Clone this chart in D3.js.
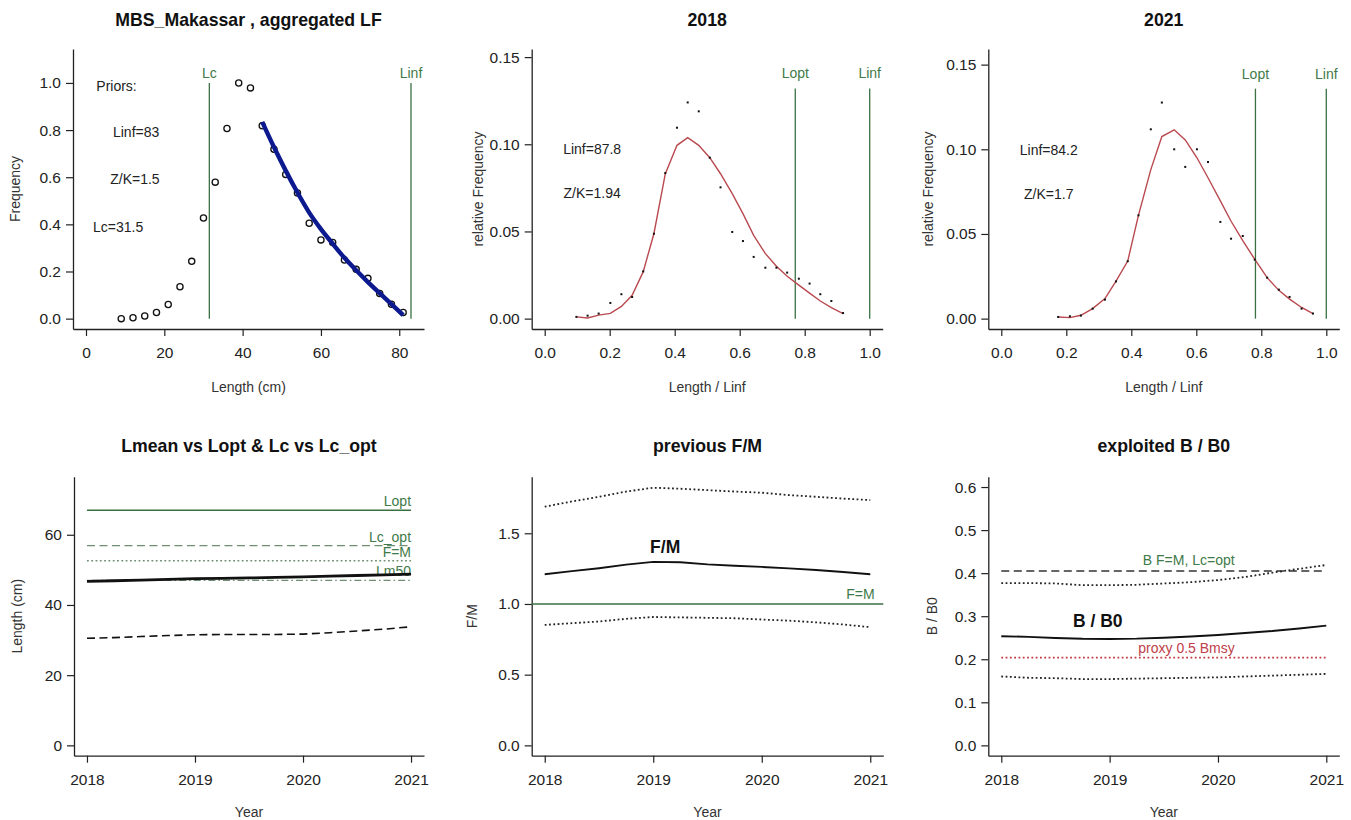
<!DOCTYPE html>
<html><head><meta charset="utf-8">
<script src="https://cdn.jsdelivr.net/npm/d3@7"></script>
<style>
body{margin:0;background:#fff;}
svg{display:block;font-family:"Liberation Sans",Arial,sans-serif;}
</style></head><body>
<svg id="chart" width="1351" height="820"></svg>
<script>
// ================= DATA =================
// Panel 1: aggregated length frequency
const lfLength = [9,12,15,18,21,24,27,30,33,36,39,42,45,48,51,54,57,60,63,66,69,72,75,78,81];
const lfFreq   = [0.0,0.004,0.011,0.026,0.06,0.135,0.243,0.427,0.579,0.807,1.0,0.979,0.818,0.719,0.612,0.533,0.405,0.334,0.323,0.249,0.209,0.171,0.107,0.061,0.026];
const fitLength = [45,48,51,54,57,60,63,66,69,72,75,78,81];
const fitFreq   = [0.835,0.728,0.628,0.535,0.45,0.38,0.318,0.258,0.205,0.155,0.108,0.062,0.015];
const priorLc = 31.5, priorLinf = 83;
const priorTexts = ["Priors:", "Linf=83", "Z/K=1.5", "Lc=31.5"];

// Panel 2: 2018 relative length frequency
const x2018   = [0.0975,0.132,0.166,0.202,0.236,0.269,0.303,0.336,0.371,0.407,0.440,0.474,0.508,0.541,0.577,0.610,0.643,0.679,0.713,0.746,0.782,0.815,0.848,0.882,0.918];
const obs2018 = [0.001,0.0017,0.0029,0.009,0.014,0.0124,0.0271,0.0487,0.0835,0.1095,0.124,0.1189,0.0923,0.0753,0.0497,0.0445,0.0354,0.0292,0.0292,0.0264,0.0229,0.0201,0.014,0.0101,0.0032];
const fit2018 = [0.001,0.0004,0.002,0.003,0.007,0.0134,0.0268,0.0487,0.083,0.0994,0.1038,0.0994,0.0923,0.0831,0.0717,0.0602,0.0478,0.0373,0.030,0.0243,0.0192,0.0146,0.0101,0.0063,0.0029];
const lopt2018 = 0.771;
const texts2018 = ["Linf=87.8", "Z/K=1.94"];

// Panel 3: 2021 relative length frequency
const x2021   = [0.175,0.211,0.245,0.281,0.319,0.353,0.389,0.422,0.460,0.494,0.532,0.566,0.602,0.636,0.674,0.707,0.743,0.780,0.818,0.854,0.887,0.924,0.959];
const obs2021 = [0.001,0.0014,0.0018,0.0059,0.0112,0.022,0.0339,0.061,0.1118,0.1276,0.100,0.0896,0.100,0.0925,0.0571,0.0472,0.0488,0.0348,0.0242,0.0171,0.0128,0.0059,0.003];
const fit2021 = [0.001,0.0006,0.002,0.0059,0.0118,0.0222,0.034,0.061,0.088,0.1075,0.1115,0.1055,0.095,0.0832,0.0695,0.0575,0.046,0.035,0.0242,0.0167,0.0115,0.0066,0.003];
const lopt2021 = 0.782;
const texts2021 = ["Linf=84.2", "Z/K=1.7"];

// Time series (panels 4-6)
const years   = [2018,2018.25,2018.5,2018.75,2019,2019.25,2019.5,2019.75,2020,2020.25,2020.5,2020.75,2021];
const lmean   = [46.7,46.9,47.1,47.3,47.5,47.6,47.7,47.85,48.0,48.2,48.4,48.6,48.8];
const lc      = [30.5,30.7,31.0,31.3,31.5,31.6,31.6,31.6,31.7,32.1,32.6,33.1,33.8];
const refLopt = 67.0, refLcOpt = 56.9, refLFM = 52.6, refLm50 = 47.0;

const fm      = [1.21,1.232,1.253,1.278,1.298,1.295,1.28,1.27,1.262,1.252,1.240,1.226,1.21];
const fmUpper = [1.688,1.725,1.758,1.795,1.822,1.815,1.805,1.795,1.787,1.770,1.758,1.745,1.735];
const fmLower = [0.852,0.864,0.876,0.895,0.908,0.905,0.902,0.899,0.890,0.882,0.870,0.855,0.836];

const bb0      = [0.2535,0.252,0.2495,0.2475,0.2472,0.2478,0.250,0.253,0.2565,0.261,0.2655,0.2715,0.278];
const bb0Upper = [0.377,0.377,0.376,0.372,0.372,0.373,0.376,0.379,0.384,0.391,0.401,0.410,0.419];
const bb0Lower = [0.160,0.157,0.156,0.154,0.154,0.155,0.156,0.157,0.158,0.160,0.162,0.164,0.166];
const refBFM = 0.405, refProxy = 0.204;

const yearTicks = [2018,2019,2020,2021];

// ================= STYLE =================
const GREEN = "#3b7043", GREEN_T = "#3f7a48", RED = "#b9494f", BLUE = "#0d1a8f";
const FONT_TICK = 15.5, FONT_LAB = 14, FONT_TITLE = 17.7;
const DOT = "1.8,2.5";

const svg = d3.select("#chart");

function makePanel(o){
  const xd = o.xlim, yd = o.ylim;
  const xr = xd[1]-xd[0], yr = yd[1]-yd[0];
  const x = d3.scaleLinear().domain([xd[0]-0.04*xr, xd[1]+0.04*xr]).range([o.x0, o.x1]);
  const y = d3.scaleLinear().domain([yd[0]-0.04*yr, yd[1]+0.04*yr]).range([o.y1, o.y0]);
  const g = svg.append("g");
  const ax = g.append("g").attr("transform",`translate(0,${o.y1})`)
    .call(d3.axisBottom(x).tickValues(o.xticks).tickFormat(o.xfmt).tickSize(7).tickSizeOuter(0).tickPadding(11));
  const ay = g.append("g").attr("transform",`translate(${o.x0},0)`)
    .call(d3.axisLeft(y).tickValues(o.yticks).tickFormat(o.yfmt).tickSize(7).tickSizeOuter(0).tickPadding(5));
  [ax, ay].forEach(a=>{
    a.selectAll("path.domain").attr("stroke","#222").attr("stroke-width",1.3);
    a.selectAll(".tick line").attr("stroke","#222").attr("stroke-width",1.2);
    a.selectAll(".tick text").attr("fill","#222").style("font-size",FONT_TICK+"px").style("font-family","'Liberation Sans',Arial,sans-serif");
  });
  const cx = (o.x0+o.x1)/2, cy = (o.y0+o.y1)/2;
  g.append("text").attr("x",cx).attr("y",o.titleY).attr("text-anchor","middle")
    .style("font-size",FONT_TITLE+"px").style("font-weight","bold").attr("fill","#111").text(o.title);
  g.append("text").attr("x",cx).attr("y",o.xlabY).attr("text-anchor","middle")
    .style("font-size",FONT_LAB+"px").attr("fill","#333").text(o.xlab);
  g.append("text").attr("transform",`translate(${o.ylabX},${cy}) rotate(-90)`).attr("text-anchor","middle")
    .attr("dy","0.35em").style("font-size",FONT_LAB+"px").attr("fill","#333").text(o.ylab);
  return {g,x,y};
}

const f1 = d3.format(".1f"), f2 = d3.format(".2f"), fi = d3.format("d");

// ---------- Panel 1 ----------
{
  const p = makePanel({x0:73,x1:424,y0:49,y1:329,xlim:[0,83],ylim:[0,1.1],
    xticks:[0,20,40,60,80],yticks:[0,0.2,0.4,0.6,0.8,1.0],xfmt:fi,yfmt:f1,
    title:"MBS_Makassar , aggregated LF",titleY:26,xlab:"Length (cm)",xlabY:392,ylab:"Frequency",ylabX:15});
  const {g,x,y} = p;
  [[priorLc,"Lc"],[priorLinf,"Linf"]].forEach(([v,t])=>{
    g.append("line").attr("x1",x(v)).attr("x2",x(v)).attr("y1",y(0)).attr("y2",y(1.0))
      .attr("stroke",GREEN).attr("stroke-width",1.3);
    g.append("text").attr("x",x(v)).attr("y",y(1.0)-5).attr("text-anchor","middle")
      .style("font-size","14px").attr("fill",GREEN_T).text(t);
  });
  g.selectAll("circle.obs").data(lfLength).join("circle").attr("class","obs")
    .attr("cx",(d)=>x(d)).attr("cy",(d,i)=>y(lfFreq[i])).attr("r",3.1)
    .attr("fill","none").attr("stroke","#111").attr("stroke-width",1.3);
  g.append("path").datum(fitLength).attr("fill","none").attr("stroke",BLUE).attr("stroke-width",4.4)
    .attr("d",d3.line().x(d=>x(d)).y((d,i)=>y(fitFreq[i])).curve(d3.curveMonotoneX));
  const tpos = [[7.8,0.985],[12.8,0.79],[12.5,0.59],[8.2,0.39]];
  priorTexts.forEach((t,i)=>{
    g.append("text").attr("x",x(tpos[i][0])).attr("y",y(tpos[i][1])).attr("dy","0.35em")
      .attr("text-anchor","middle").style("font-size","14px").attr("fill","#222").text(t);
  });
}

// ---------- Panels 2 & 3 ----------
function relPanel(o, xs, obs, fit, lopt, lineTop, texts, textPos){
  const p = makePanel(Object.assign({xlim:[0,1],xticks:[0,0.2,0.4,0.6,0.8,1.0],yticks:[0,0.05,0.10,0.15],
    xfmt:f1,yfmt:f2,titleY:26,xlab:"Length / Linf",xlabY:392,ylab:"relative Frequency"},o));
  const {g,x,y} = p;
  [[lopt,"Lopt"],[1.0,"Linf"]].forEach(([v,t])=>{
    g.append("line").attr("x1",x(v)).attr("x2",x(v)).attr("y1",y(0)).attr("y2",y(lineTop))
      .attr("stroke",GREEN).attr("stroke-width",1.3);
    g.append("text").attr("x",x(v)).attr("y",y(lineTop)-10).attr("text-anchor","middle")
      .style("font-size","14px").attr("fill",GREEN_T).text(t);
  });
  g.append("path").datum(xs).attr("fill","none").attr("stroke",RED).attr("stroke-width",1.4)
    .attr("d",d3.line().x(d=>x(d)).y((d,i)=>y(fit[i])));
  g.selectAll("rect.obs").data(xs).join("rect").attr("class","obs")
    .attr("x",d=>x(d)-1).attr("y",(d,i)=>y(obs[i])-1).attr("width",2).attr("height",2).attr("fill","#111");
  texts.forEach((t,i)=>{
    g.append("text").attr("x",x(textPos[i][0])).attr("y",y(textPos[i][1])).attr("dy","0.35em")
      .attr("text-anchor","middle").style("font-size","14px").attr("fill","#222").text(t);
  });
}
relPanel({x0:531.7,x1:882.7,y0:49,y1:329,ylim:[0,0.1487],title:"2018",ylabX:478},
  x2018, obs2018, fit2018, lopt2018, 0.132, texts2018, [[0.146,0.0975],[0.146,0.0722]]);
relPanel({x0:988.3,x1:1339.3,y0:49,y1:329,ylim:[0,0.1531],title:"2021",ylabX:928},
  x2021, obs2021, fit2021, lopt2021, 0.1358, texts2021, [[0.146,0.0998],[0.146,0.0738]]);

// ---------- Panel 4 ----------
{
  const p = makePanel({x0:74,x1:424,y0:476.7,y1:755.7,xlim:[2018,2021],ylim:[0,73.6],
    xticks:yearTicks,yticks:[0,20,40,60],xfmt:fi,yfmt:fi,
    title:"Lmean vs Lopt & Lc vs Lc_opt",titleY:452,xlab:"Year",xlabY:817,ylab:"Length (cm)",ylabX:17});
  const {g,x,y} = p;
  const refs = [[refLopt,"Lopt",null,1.4],[refLcOpt,"Lc_opt","8,4.5",1.3],[refLFM,"F=M",DOT,1.6],[refLm50,"Lm50","1.6,3,7,3",1.3]];
  refs.forEach(([v,t,dash,w])=>{
    const l = g.append("line").attr("x1",x(2018)).attr("x2",x(2021)).attr("y1",y(v)).attr("y2",y(v))
      .attr("stroke",dash? "#6e8f70":GREEN).attr("stroke-width",w);
    if(dash) l.attr("stroke-dasharray",dash);
    g.append("text").attr("x",x(2021)).attr("y",y(v)-4).attr("text-anchor","end")
      .style("font-size","14px").attr("fill",GREEN_T).text(t);
  });
  const ln = d3.line().x((d,i)=>x(years[i])).y(d=>y(d));
  g.append("path").datum(lmean).attr("fill","none").attr("stroke","#111").attr("stroke-width",2.8).attr("d",ln);
  g.append("path").datum(lc).attr("fill","none").attr("stroke","#111").attr("stroke-width",1.6)
    .attr("stroke-dasharray","8,4.5").attr("d",ln);
}

// ---------- Panel 5 ----------
{
  const p = makePanel({x0:531.7,x1:883.3,y0:476.7,y1:755.7,xlim:[2018,2021],ylim:[0,1.827],
    xticks:yearTicks,yticks:[0,0.5,1.0,1.5],xfmt:f1==null?fi:fi,yfmt:f1,
    title:"previous F/M",titleY:452,xlab:"Year",xlabY:817,ylab:"F/M",ylabX:472});
  const {g,x,y} = p;
  g.append("line").attr("x1",531.7).attr("x2",883.3).attr("y1",y(1.0)).attr("y2",y(1.0))
    .attr("stroke",GREEN).attr("stroke-width",1.4);
  g.append("text").attr("x",x(2021.04)).attr("y",y(1.0)-5).attr("text-anchor","end")
    .style("font-size","14px").attr("fill",GREEN_T).text("F=M");
  const ln = d3.line().x((d,i)=>x(years[i])).y(d=>y(d));
  [fmUpper, fmLower].forEach(s=>g.append("path").datum(s).attr("fill","none").attr("stroke","#222")
    .attr("stroke-width",1.8).attr("stroke-dasharray",DOT).attr("d",ln));
  g.append("path").datum(fm).attr("fill","none").attr("stroke","#111").attr("stroke-width",1.9).attr("d",ln);
  g.append("text").attr("x",x(2019.11)).attr("y",y(1.405)).attr("dy","0.35em").attr("text-anchor","middle")
    .style("font-size","17.5px").style("font-weight","bold").attr("fill","#111").text("F/M");
}

// ---------- Panel 6 ----------
{
  const p = makePanel({x0:988.3,x1:1339.3,y0:476.7,y1:755.7,xlim:[2018,2021],ylim:[0,0.6],
    xticks:yearTicks,yticks:[0,0.1,0.2,0.3,0.4,0.5,0.6],xfmt:fi,yfmt:f1,
    title:"exploited B / B0",titleY:452,xlab:"Year",xlabY:817,ylab:"B / B0",ylabX:932});
  const {g,x,y} = p;
  g.append("line").attr("x1",x(2018)).attr("x2",x(2021)).attr("y1",y(refBFM)).attr("y2",y(refBFM))
    .attr("stroke","#333").attr("stroke-width",1.4).attr("stroke-dasharray","8,4.5");
  g.append("text").attr("x",x(2019.73)).attr("y",y(refBFM)-6).attr("text-anchor","middle")
    .style("font-size","14px").attr("fill",GREEN_T).text("B F=M, Lc=opt");
  g.append("line").attr("x1",x(2018)).attr("x2",x(2021)).attr("y1",y(refProxy)).attr("y2",y(refProxy))
    .attr("stroke","#c23a42").attr("stroke-width",1.7).attr("stroke-dasharray",DOT);
  g.append("text").attr("x",x(2019.71)).attr("y",y(refProxy)-5).attr("text-anchor","middle")
    .style("font-size","14px").attr("fill","#c0404a").text("proxy 0.5 Bmsy");
  const ln = d3.line().x((d,i)=>x(years[i])).y(d=>y(d));
  [bb0Upper, bb0Lower].forEach(s=>g.append("path").datum(s).attr("fill","none").attr("stroke","#222")
    .attr("stroke-width",1.8).attr("stroke-dasharray",DOT).attr("d",ln));
  g.append("path").datum(bb0).attr("fill","none").attr("stroke","#111").attr("stroke-width",1.9).attr("d",ln);
  g.append("text").attr("x",x(2018.89)).attr("y",y(0.288)).attr("dy","0.35em").attr("text-anchor","middle")
    .style("font-size","17.5px").style("font-weight","bold").attr("fill","#111").text("B / B0");
}
</script>
</body></html>
